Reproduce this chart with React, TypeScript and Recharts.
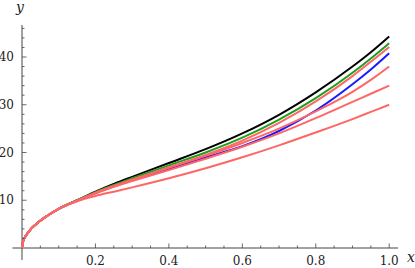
import React from 'react';
import { LineChart, Line, XAxis, YAxis, ReferenceLine } from 'recharts';

// x grid shared by every curve
const xs = [0, 0.002, 0.005, 0.01, 0.02, 0.04, 0.07, 0.1, 0.15, 0.2, 0.25, 0.3, 0.4, 0.5, 0.6, 0.7, 0.8, 0.9, 0.95, 1.0];

const blackVals = [0, 1.1, 1.8, 2.5, 3.6, 5.1, 6.8, 8.2, 10.0, 11.8, 13.4, 14.9, 17.8, 20.7, 24.0, 27.9, 32.6, 38.0, 41.0, 44.3];
const greenVals = [0, 1.1, 1.8, 2.5, 3.6, 5.1, 6.8, 8.2, 10.0, 11.7, 13.2, 14.6, 17.3, 20.0, 23.1, 26.9, 31.4, 36.7, 39.7, 42.9];
const blueVals = [0, 1.1, 1.8, 2.5, 3.6, 5.1, 6.8, 8.2, 9.9, 11.5, 12.9, 14.2, 16.6, 19.0, 21.3, 24.5, 28.8, 34.3, 37.4, 40.8];
const redA = [0, 1.1, 1.8, 2.5, 3.6, 5.1, 6.8, 8.2, 9.9, 11.6, 13.0, 14.3, 16.9, 19.5, 22.5, 26.2, 30.7, 36.0, 39.0, 42.1];
const redB = [0, 1.1, 1.8, 2.5, 3.6, 5.1, 6.8, 8.2, 9.9, 11.5, 12.9, 14.3, 16.8, 19.3, 22.0, 25.0, 28.6, 32.7, 35.2, 38.0];
const redC = [0, 1.1, 1.8, 2.5, 3.6, 5.1, 6.8, 8.2, 9.9, 11.4, 12.8, 14.0, 16.3, 18.7, 21.2, 24.0, 27.2, 30.6, 32.3, 34.0];
const redD = [0, 1.1, 1.8, 2.5, 3.6, 5.1, 6.8, 8.2, 9.8, 10.9, 11.8, 12.7, 14.6, 16.7, 19.0, 21.5, 24.2, 27.0, 28.5, 30.0];

// ticks
const xTicks = [0.05, 0.1, 0.15, 0.2, 0.25, 0.3, 0.35, 0.4, 0.45, 0.5, 0.55, 0.6, 0.65, 0.7, 0.75, 0.8, 0.85, 0.9, 0.95, 1.0];
const xMajor = [0.2, 0.4, 0.6, 0.8, 1.0];
const xLabels = ['0.2', '0.4', '0.6', '0.8', '1.0'];
const yTicks = [2, 4, 6, 8, 10, 12, 14, 16, 18, 20, 22, 24, 26, 28, 30, 32, 34, 36, 38, 40, 42, 44, 46];
const yMajor = [10, 20, 30, 40];
const yLabels = ['10', '20', '30', '40'];

const data = xs.map((x, i) => ({
  x,
  black: blackVals[i],
  green: greenVals[i],
  blue: blueVals[i],
  r1: redA[i],
  r2: redB[i],
  r3: redC[i],
  r4: redD[i],
}));

const AXIS = '#444';
const RED = '#ff6666';
const textStyle = { fontFamily: "'DejaVu Serif', serif", fontSize: 12, fill: '#222' };
const titleStyle = { fontFamily: "'DejaVu Serif', serif", fontSize: 14, fontStyle: 'italic', fill: '#222' };

const XTick = (props: any) => {
  const { x, y, payload } = props;
  const idx = xMajor.indexOf(payload.value);
  const major = idx >= 0;
  return (
    <g>
      <line x1={x} x2={x} y1={y} y2={y - (major ? 4.5 : 2.5)} stroke={AXIS} strokeWidth={0.8} />
      {major && (
        <text x={x} y={y + 17} textAnchor="middle" style={textStyle}>
          {xLabels[idx]}
        </text>
      )}
    </g>
  );
};

const YTick = (props: any) => {
  const { x, y, payload } = props;
  const idx = yMajor.indexOf(payload.value);
  const major = idx >= 0;
  return (
    <g>
      <line x1={x} x2={x + (major ? 4.5 : 2.5)} y1={y} y2={y} stroke={AXIS} strokeWidth={0.8} />
      {major && (
        <text x={x - 8} y={y} dy="0.35em" textAnchor="end" style={textStyle}>
          {yLabels[idx]}
        </text>
      )}
    </g>
  );
};

const XTitle = (props: any) => {
  const vb = props.viewBox || { x: 22, y: 248, width: 376, height: 20 };
  return (
    <text x={vb.x + vb.width + 9} y={vb.y + 13.5} style={titleStyle}>
      x
    </text>
  );
};

const YTitle = (props: any) => {
  const vb = props.viewBox || { x: 0, y: 25, width: 22, height: 223 };
  return (
    <text x={vb.x + vb.width - 2} y={vb.y - 13} textAnchor="middle" style={titleStyle}>
      y
    </text>
  );
};

export default function App() {
  return (
    <div style={{ position: 'absolute', left: 0, top: 0, width: 415, height: 268, background: '#fff' }}>
      <LineChart width={415} height={268} data={data} margin={{ top: 25, right: 17, bottom: 0, left: 0 }}>
        <XAxis
          dataKey="x"
          type="number"
          domain={[0, 1.024]}
          ticks={xTicks}
          interval={0}
          height={20}
          axisLine={false}
          tickLine={false}
          tickSize={0}
          tickMargin={0}
          tick={<XTick />}
          label={<XTitle />}
        />
        <YAxis
          type="number"
          domain={[0, 46.7]}
          ticks={yTicks}
          interval={0}
          width={22}
          axisLine={false}
          tickLine={false}
          tickSize={0}
          tickMargin={0}
          tick={<YTick />}
          label={<YTitle />}
        />
        <ReferenceLine
          segment={[{ x: -0.026, y: 0 }, { x: 1.024, y: 0 }]}
          stroke={AXIS}
          strokeWidth={1}
          ifOverflow="visible"
        />
        <ReferenceLine
          segment={[{ x: 0, y: -2.5 }, { x: 0, y: 46.7 }]}
          stroke={AXIS}
          strokeWidth={1}
          ifOverflow="visible"
        />
        <Line type="monotone" dataKey="black" stroke="#000" strokeWidth={2} dot={false} isAnimationActive={false} />
        <Line type="monotone" dataKey="green" stroke="#1ea01e" strokeWidth={2} dot={false} isAnimationActive={false} />
        <Line type="monotone" dataKey="blue" stroke="#1a1aff" strokeWidth={2} dot={false} isAnimationActive={false} />
        <Line type="monotone" dataKey="r1" stroke={RED} strokeWidth={2} dot={false} isAnimationActive={false} />
        <Line type="monotone" dataKey="r2" stroke={RED} strokeWidth={2} dot={false} isAnimationActive={false} />
        <Line type="monotone" dataKey="r3" stroke={RED} strokeWidth={2} dot={false} isAnimationActive={false} />
        <Line type="monotone" dataKey="r4" stroke={RED} strokeWidth={2} dot={false} isAnimationActive={false} />
      </LineChart>
    </div>
  );
}
